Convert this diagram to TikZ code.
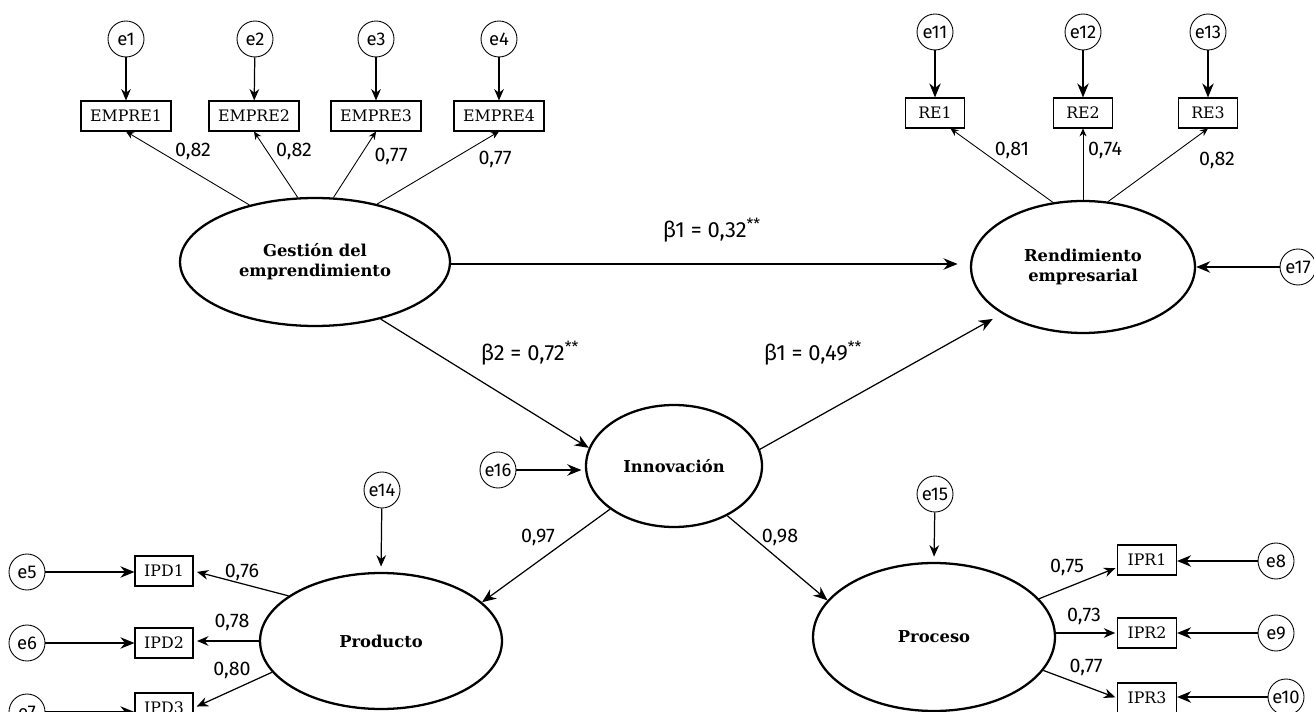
\documentclass[tikz,border=0pt]{standalone}
\usepackage{fontspec}
\setmainfont{Fira Sans}
\newfontfamily\slab{DejaVu Serif}
\usetikzlibrary{arrows.meta,shapes.geometric}
\tikzset{
  lat/.style={ellipse,draw,line width=1.3pt,inner sep=0pt,align=center,font=\slab\bfseries\fontsize{9.3}{11.5}\selectfont},
  obs/.style={rectangle,draw,line width=0.6pt,inner sep=0pt,minimum height=0.6cm,font=\slab\fontsize{9}{10}\selectfont},
  err/.style={circle,draw,line width=0.5pt,minimum size=0.72cm,inner sep=0pt,font=\fontsize{10.5}{12}\selectfont},
  load/.style={line width=0.5pt,-{Stealth[length=4.5pt,width=4pt]}},
  errarr/.style={line width=0.7pt,-{Stealth[length=6.5pt,width=5.5pt]}},
  errbig/.style={line width=1pt,-{Stealth[length=8pt,width=6.5pt]}},
  struct/.style={line width=0.7pt,-{Stealth[length=8pt,width=6.5pt]}},
  num/.style={inner sep=0pt,font=\fontsize{11.2}{13}\selectfont},
  beta/.style={inner sep=0pt,font=\fontsize{12.5}{14}\selectfont}
}
\begin{document}
\begin{tikzpicture}[x=0.02cm,y=-0.02cm]
\path[use as bounding box] (0,0) rectangle (1314,712);
\clip (0,0) rectangle (1314,712);
% latent variables
\node[lat,minimum width=5.4cm,minimum height=2.56cm] (gest) at (315,262) {Gestión del\\emprendimiento};
\node[lat,minimum width=4.48cm,minimum height=2.64cm] (rend) at (1083,267) {Rendimiento\\empresarial};
\node[lat,minimum width=3.52cm,minimum height=2.44cm] (innov) at (674,466) {Innovación};
\node[lat,minimum width=4.84cm,minimum height=2.72cm] (prod) at (381,641) {Producto};
\node[lat,minimum width=4.84cm,minimum height=2.96cm] (proc) at (934,637) {Proceso};
% indicators
\node[obs,minimum width=1.8cm] (E1) at (126,116) {EMPRE1};
\node[obs,minimum width=1.8cm] (E2) at (254,116) {EMPRE2};
\node[obs,minimum width=1.8cm] (E3) at (376,116) {EMPRE3};
\node[obs,minimum width=1.8cm] (E4) at (499,116) {EMPRE4};
\node[obs,minimum width=1.18cm] (RE1) at (935,113) {RE1};
\node[obs,minimum width=1.18cm] (RE2) at (1083,113) {RE2};
\node[obs,minimum width=1.18cm] (RE3) at (1208,113) {RE3};
\node[obs,minimum width=1.16cm] (IPD1) at (164,571) {IPD1};
\node[obs,minimum width=1.16cm] (IPD2) at (164,643) {IPD2};
\node[obs,minimum width=1.16cm] (IPD3) at (164,708) {IPD3};
\node[obs,minimum width=1.18cm] (IPR1) at (1147,560) {IPR1};
\node[obs,minimum width=1.18cm] (IPR2) at (1147,633) {IPR2};
\node[obs,minimum width=1.18cm] (IPR3) at (1147,698) {IPR3};
% errors
\node[err] (e1) at (126,39) {e1};
\node[err] (e2) at (255,39) {e2};
\node[err] (e3) at (376,39) {e3};
\node[err] (e4) at (499,39) {e4};
\node[err] (e11) at (935,32) {e11};
\node[err] (e12) at (1083,32) {e12};
\node[err] (e13) at (1208,32) {e13};
\node[err] (e17) at (1298,267) {e17};
\node[err] (e16) at (498,470) {e16};
\node[err] (e14) at (382,490) {e14};
\node[err] (e15) at (935,494) {e15};
\node[err] (e5) at (27,572) {e5};
\node[err] (e6) at (27,643) {e6};
\node[err] (e7) at (27,712) {e7};
\node[err] (e8) at (1276,561) {e8};
\node[err] (e9) at (1276,633) {e9};
\node[err] (e10) at (1286,697) {e10};
% error arrows
\draw[errarr] (e1) -- (E1);
\draw[errarr] (e2) -- (E2);
\draw[errarr] (e3) -- (E3);
\draw[errarr] (e4) -- (E4);
\draw[errbig] (e11) -- (RE1);
\draw[errbig] (e12) -- (RE2);
\draw[errbig] (e13) -- (RE3);
\draw[errbig] (e17) -- (rend.east);
\draw[struct,shorten >=2pt] (e16) -- (e16 -| innov.west);
\draw[errarr,shorten >=3pt] (e14) -- (prod.north);
\draw[errarr,shorten >=3pt] (e15) -- (proc.north);
\draw[errbig] (e5) -- (e5 -| IPD1.west);
\draw[errbig] (e6) -- (e6 -| IPD2.west);
\draw[errbig] (e7) -- (e7 -| IPD3.west);
\draw[errbig] (e8) -- (e8 -| IPR1.east);
\draw[errbig] (e9) -- (e9 -| IPR2.east);
\draw[errbig] (e10) -- (e10 -| IPR3.east);
% loadings
\draw[load] (gest.139) -- (E1.south);
\draw[load] (gest.105) -- (E2.south);
\draw[load] (gest.74) -- (E3.south);
\draw[load] (gest.43) -- (E4.south);
\draw[load] (rend.115) -- (RE1.-45);
\draw[load] (rend.north) -- (RE2.south);
\draw[load] (rend.69) -- (RE3.south);
\draw[errarr,shorten >=2pt] (prod.154) -- (IPD1.east);
\draw[errarr,shorten >=2pt] (prod.west) -- (prod.west -| IPD2.east);
\draw[errarr,shorten >=2pt] (prod.196) -- (IPD3.east);
\draw[errarr,shorten >=1pt] (proc.20) -- (IPR1.194);
\draw[errarr,shorten >=1pt] (proc.east |- IPR2.west) -- (IPR2.west);
\draw[errarr,shorten >=1pt] (proc.-17) -- (IPR3.west);
% structural
\draw[struct,shorten >=7pt] (gest.east |- 0,264) -- (rend.west |- 0,264);
\draw[struct] (gest.-41) -- (innov.168);
\draw[struct,shorten >=6pt] (innov.11) -- (rend.210);
\draw[struct] (innov.214.5) -- (prod.21);
\draw[struct] (innov.-43) -- (proc.161);
% labels
\node[num] (l1) at (193,151) {0,82};
\node[num] (l2) at (294,151) {0,82};
\node[num] (l3) at (391,156) {0,77};
\node[num] (l4) at (495,159) {0,77};
\node[num] (l11) at (1012,150) {0,81};
\node[num] (l12) at (1105,150) {0,74};
\node[num] (l13) at (1217,160) {0,82};
\node[num] (l97) at (538,537) {0,97};
\node[num] (l98) at (780,537) {0,98};
\node[num] (l5) at (242,572) {0,76};
\node[num] (l6) at (232,622) {0,78};
\node[num] (l7) at (232,670) {0,80};
\node[num] (l8) at (1067,567) {0,75};
\node[num] (l9) at (1084,616) {0,73};
\node[num] (l10) at (1086,667) {0,77};
\node[beta] (b1) at (712,230) {β1 = 0,32\textsuperscript{**}};
\node[beta] (b2) at (530,353) {β2 = 0,72\textsuperscript{**}};
\node[beta] (b3) at (813,353) {β1 = 0,49\textsuperscript{**}};
\end{tikzpicture}
\end{document}
